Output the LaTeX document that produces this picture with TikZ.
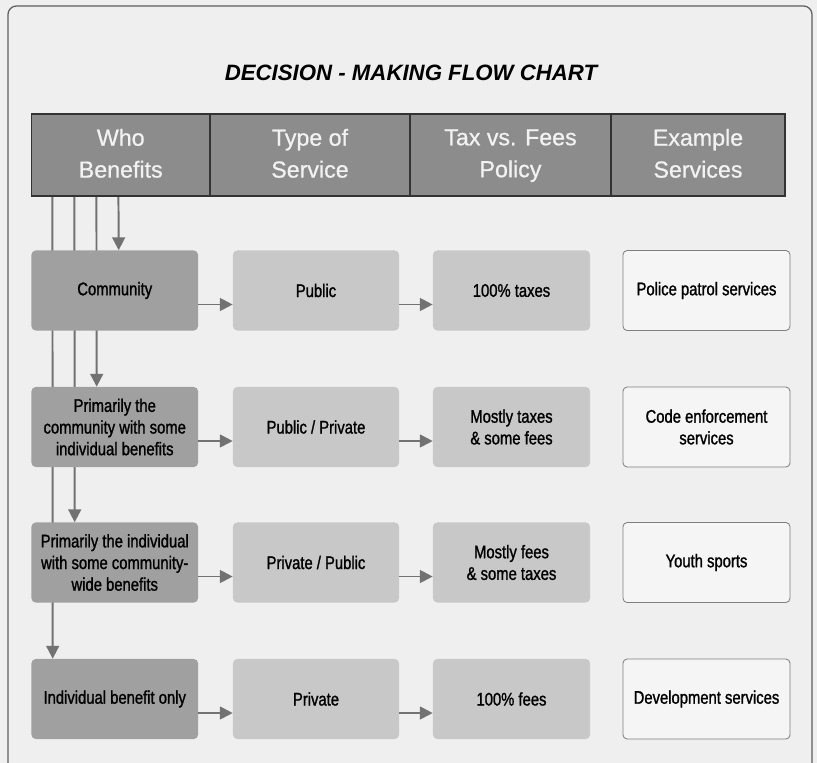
\documentclass[tikz,border=0pt]{standalone}
\usepackage{fontspec}
\setmainfont{Liberation Sans}
\newfontfamily\narrowsf{Liberation Sans}[FakeStretch=0.81, FakeBold=1.2]
\newfontfamily\headsf{Liberation Sans}[FakeBold=0.8]
\usetikzlibrary{arrows.meta,backgrounds}

\definecolor{pagegray}{HTML}{EFEFEF}
\definecolor{framegray}{HTML}{5E5E5E}
\definecolor{headgray}{HTML}{8C8C8C}
\definecolor{headtext}{HTML}{F2F2F2}
\definecolor{whogray}{HTML}{A0A0A0}
\definecolor{typegray}{HTML}{C8C8C8}
\definecolor{examplefill}{HTML}{F5F5F5}
\definecolor{linkgray}{HTML}{727272}

\begin{document}
\begin{tikzpicture}[x=0.025cm, y=-0.025cm,
    headcell/.style={draw=black!80, line width=0.8pt, fill=headgray, text=headtext, minimum height=2.05cm, align=center, text depth=2.5pt, font=\headsf\fontsize{16.5}{22.7}\selectfont},
    box/.style={rounded corners=3pt, minimum height=2cm, align=center, inner sep=2pt, font=\narrowsf\fontsize{13}{15.4}\selectfont},
    whobox/.style={box, fill=whogray, minimum width=4.1625cm},
    typebox/.style={box, fill=typegray, minimum width=4.15cm},
    taxbox/.style={box, fill=typegray, minimum width=3.925cm},
    examplebox/.style={box, draw=black!50, line width=0.6pt, fill=examplefill, minimum width=4.175cm},
    flow/.style={draw=linkgray, line width=1.4pt, -{Triangle[length=3.2mm,width=3.2mm]}}
]
    \useasboundingbox (0,0) rectangle (817,763);

    % Title
    \node[font=\fontsize{15.8}{19}\selectfont\bfseries\itshape] (title) at (411,73) {DECISION - MAKING FLOW CHART};

    % Header row
    \node[headcell, minimum width=4.4625cm] (who) at (120.75,155) {Who\\Benefits};
    \node[headcell, minimum width=5cm] (type) at (310,155) {Type of\\Service};
    \node[headcell, minimum width=5.025cm] (tax) at (510.5,155) {Tax vs. Fees\\Policy};
    \node[headcell, minimum width=4.35cm] (example) at (698,155) {Example\\Services};

    % Four rows
    \node[whobox] (comm) at (114.75,290.5) {Community};
    \node[typebox] (pub) at (316,290.5) {Public};
    \node[taxbox] (taxes) at (511.5,290.5) {100\% taxes};
    \node[examplebox] (police) at (706.5,290.5) {Police patrol services};

    \node[whobox] (mostcomm) at (114.75,427) {Primarily the\\community with some\\individual benefits};
    \node[typebox] (pubpriv) at (316,427) {Public / Private};
    \node[taxbox] (mosttaxes) at (511.5,427) {Mostly taxes\\\& some fees};
    \node[examplebox] (code) at (706.5,427) {Code enforcement\\services};

    \node[whobox] (mostindiv) at (114.75,562.5) {Primarily the individual\\with some community-\\wide benefits};
    \node[typebox] (privpub) at (316,562.5) {Private / Public};
    \node[taxbox] (mostfees) at (511.5,562.5) {Mostly fees\\\& some taxes};
    \node[examplebox] (youth) at (706.5,562.5) {Youth sports};

    \node[whobox] (indiv) at (114.75,699) {Individual benefit only};
    \node[typebox] (priv) at (316,699) {Private};
    \node[taxbox] (fees) at (511.5,699) {100\% fees};
    \node[examplebox] (devel) at (706.5,699) {Development services};

    % Arrows across
    \draw[flow] ([yshift=-0.35cm]comm.east) -- ([yshift=-0.35cm]pub.west);
    \draw[flow] ([yshift=-0.35cm]pub.east) -- ([yshift=-0.35cm]taxes.west);
    \draw[flow] ([yshift=-0.35cm]mostcomm.east) -- ([yshift=-0.35cm]pubpriv.west);
    \draw[flow] ([yshift=-0.35cm]pubpriv.east) -- ([yshift=-0.35cm]mosttaxes.west);
    \draw[flow] ([yshift=-0.35cm]mostindiv.east) -- ([yshift=-0.35cm]privpub.west);
    \draw[flow] ([yshift=-0.35cm]privpub.east) -- ([yshift=-0.35cm]mostfees.west);
    \draw[flow] ([yshift=-0.35cm]indiv.east) -- ([yshift=-0.35cm]priv.west);
    \draw[flow] ([yshift=-0.35cm]priv.east) -- ([yshift=-0.35cm]fees.west);

    % Page, frame and the drop lines behind the boxes
    \begin{scope}[on background layer]
        \fill[pagegray] (0,0) rectangle (817,763);
        \draw[framegray, line width=0.9pt, rounded corners=6pt] (8,6) rectangle (812,800);
        \draw[flow] ([xshift=2.1875cm]who.south west) -- ([xshift=2.1875cm]comm.north west);
        \draw[flow] ([xshift=1.6375cm]who.south west) -- ([xshift=1.6375cm]mostcomm.north west);
        \draw[flow] ([xshift=1.0875cm]who.south west) -- ([xshift=1.0875cm]mostindiv.north west);
        \draw[flow] ([xshift=0.5375cm]who.south west) -- ([xshift=0.5375cm]indiv.north west);
    \end{scope}
\end{tikzpicture}
\end{document}
